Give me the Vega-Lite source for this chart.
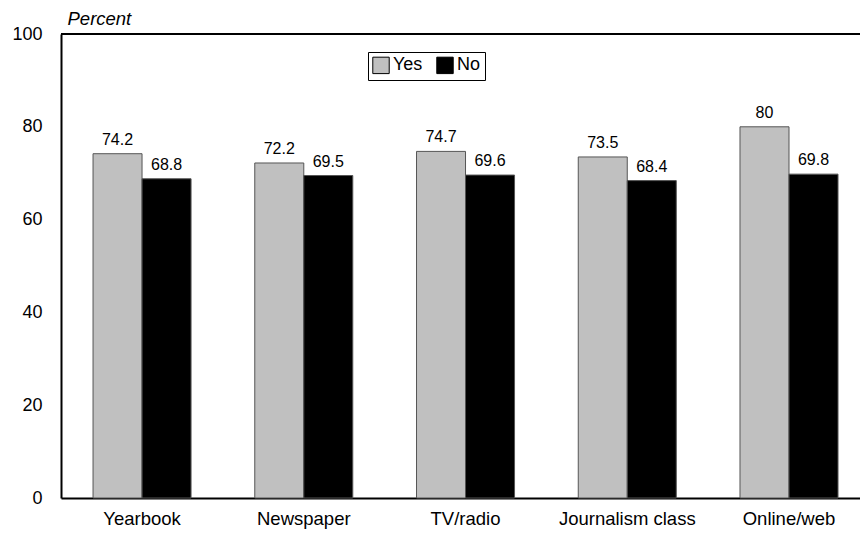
{
  "$schema": "https://vega.github.io/schema/vega-lite/v6.json",
  "width": 799,
  "height": 464,
  "autosize": {"type": "none"},
  "padding": {"left": 61, "top": 34, "right": 0, "bottom": 35},
  "background": "white",
  "config": {
    "view": {"stroke": null},
    "font": "Liberation Sans",
    "axis": {"labelColor": "black", "titleColor": "black", "domainColor": "black", "domainWidth": 2, "ticks": false, "tickSize": 0, "grid": false}
  },
  "data": {
    "values": [
      {"activity": "Yearbook", "response": "Yes", "percent": 74.2},
      {"activity": "Yearbook", "response": "No", "percent": 68.8},
      {"activity": "Newspaper", "response": "Yes", "percent": 72.2},
      {"activity": "Newspaper", "response": "No", "percent": 69.5},
      {"activity": "TV/radio", "response": "Yes", "percent": 74.7},
      {"activity": "TV/radio", "response": "No", "percent": 69.6},
      {"activity": "Journalism class", "response": "Yes", "percent": 73.5},
      {"activity": "Journalism class", "response": "No", "percent": 68.4},
      {"activity": "Online/web", "response": "Yes", "percent": 80},
      {"activity": "Online/web", "response": "No", "percent": 69.8}
    ]
  },
  "layer": [
    {
      "mark": {"type": "bar", "stroke": "#555555", "strokeWidth": 1},
      "encoding": {
        "x": {
          "field": "activity", "type": "nominal",
          "sort": ["Yearbook", "Newspaper", "TV/radio", "Journalism class", "Online/web"],
          "scale": {"paddingInner": 0.394, "paddingOuter": 0.167, "align": 0.593},
          "axis": {"title": null, "labelAngle": 0, "labelFontSize": 18.5, "labelPadding": 11}
        },
        "xOffset": {"field": "response", "type": "nominal", "sort": ["Yes", "No"], "scale": {"paddingInner": 0, "paddingOuter": 0}},
        "y": {
          "field": "percent", "type": "quantitative",
          "scale": {"domain": [0, 100], "nice": false},
          "axis": {
            "values": [0, 20, 40, 60, 80, 100],
            "labelFontSize": 18, "labelPadding": 19,
            "title": "Percent", "titleAngle": 0, "titleAlign": "left", "titleBaseline": "alphabetic",
            "titleX": 6, "titleY": -10, "titleFontStyle": "italic", "titleFontWeight": "normal", "titleFontSize": 18.5
          }
        },
        "color": {
          "field": "response", "type": "nominal",
          "scale": {"domain": ["Yes", "No"], "range": ["#c0c0c0", "#000000"]},
          "legend": {
            "orient": "none", "legendX": 307, "legendY": 18, "direction": "horizontal",
            "title": null, "strokeColor": "black", "padding": 4,
            "symbolType": "square", "symbolSize": 270, "symbolStrokeColor": "black", "symbolStrokeWidth": 1,
            "labelFontSize": 18, "labelOffset": 3, "columnPadding": 11, "labelColor": "black"
          }
        }
      }
    },
    {
      "mark": {"type": "text", "dy": -9, "baseline": "alphabetic", "fontSize": 16, "color": "black"},
      "encoding": {
        "x": {"field": "activity", "type": "nominal", "sort": ["Yearbook", "Newspaper", "TV/radio", "Journalism class", "Online/web"]},
        "xOffset": {"field": "response", "type": "nominal", "sort": ["Yes", "No"]},
        "y": {"field": "percent", "type": "quantitative"},
        "text": {"field": "percent", "type": "nominal"}
      }
    },
    {
      "mark": {"type": "rule", "strokeWidth": 2, "color": "black"},
      "encoding": {"y": {"datum": 100}}
    }
  ]
}
